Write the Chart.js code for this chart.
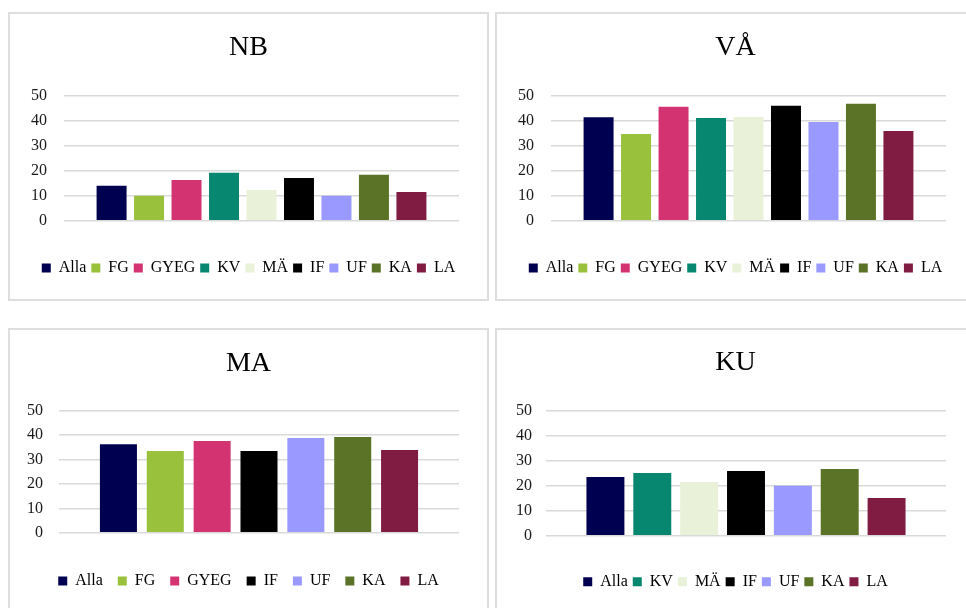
<!DOCTYPE html>
<html>
<head>
<meta charset="utf-8">
<script src="https://cdn.jsdelivr.net/npm/chart.js"></script>
<style>
  html, body { margin:0; padding:0; background:#fff; overflow:hidden; }
  body { width:966px; height:608px; position:relative; }
  .panel { position:absolute; width:481px; height:289px; border:2px solid #dedede; box-sizing:border-box; background:#fff; }
  .panel canvas { position:absolute; left:0; top:0; }
</style>
</head>
<body>
<div class="panel" style="left:8px; top:12px;"><canvas id="chartNB" width="477" height="285"></canvas></div>
<div class="panel" style="left:495px; top:12px;"><canvas id="chartVA" width="477" height="285"></canvas></div>
<div class="panel" style="left:8px; top:328px;"><canvas id="chartMA" width="477" height="285"></canvas></div>
<div class="panel" style="left:495px; top:328px;"><canvas id="chartKU" width="477" height="285"></canvas></div>
<script>
// --- values per subject (percent), one bar per group ---
const nbGroups = ['Alla', 'FG', 'GYEG', 'KV', 'MÄ', 'IF', 'UF', 'KA', 'LA'];
const nbValues = [14, 10, 16.3, 19.2, 12.3, 17.1, 10, 18.4, 11.5];

const vaGroups = ['Alla', 'FG', 'GYEG', 'KV', 'MÄ', 'IF', 'UF', 'KA', 'LA'];
const vaValues = [41.5, 34.8, 45.7, 41.2, 41.6, 46.1, 39.6, 46.9, 36];

const maGroups = ['Alla', 'FG', 'GYEG', 'IF', 'UF', 'KA', 'LA'];
const maValues = [36.3, 33.5, 37.6, 33.5, 38.8, 39.2, 33.9];

const kuGroups = ['Alla', 'KV', 'MÄ', 'IF', 'UF', 'KA', 'LA'];
const kuValues = [23.5, 25.1, 21.5, 25.9, 20, 26.7, 15.1];

const yMin = 0, yMax = 50, yStep = 10;

// fixed colour per group so every panel uses the same one
const groupColors = {
  'Alla': '#000050', 'FG': '#99c13c', 'GYEG': '#d33471', 'KV': '#078670',
  'MÄ': '#e9f2d9', 'IF': '#000000', 'UF': '#9999ff', 'KA': '#5a7326', 'LA': '#801b42'
};

const FONT = "'Liberation Serif', 'Times New Roman', serif";
const W = 477, H = 285;

function makePanel(id, title, groups, values, L) {
  const padBottom = H - L.legendY - 18;
  const legendTop = H - padBottom - (26 + L.legPad);
  return new Chart(document.getElementById(id).getContext('2d'), {
    type: 'bar',
    data: {
      labels: [''],
      datasets: groups.map((g, i) => ({
        label: g, data: [values[i]], backgroundColor: groupColors[g], borderWidth: 0,
        categoryPercentage: L.catPct, barPercentage: L.barPct
      }))
    },
    options: {
      responsive: false, animation: false,
      layout: { padding: { left: 0, right: 0, top: 0, bottom: padBottom } },
      plugins: {
        tooltip: { enabled: false },
        title: {
          display: true, text: title, color: '#000',
          font: { family: FONT, size: 28, weight: 'normal', lineHeight: 1.2 },
          padding: { top: L.titleY - 16.8, bottom: L.plotTop - L.titleY - 16.8 }
        },
        legend: {
          position: 'bottom',
          labels: { boxWidth: 9, boxHeight: 9, padding: L.legPad, color: '#000',
                    font: { family: FONT, size: 16 } }
        }
      },
      scales: {
        x: {
          display: true, grid: { display: false }, border: { display: false },
          ticks: { display: false },
          afterFit: s => { s.height = legendTop - L.plotBottom; }
        },
        y: {
          min: yMin, max: yMax,
          ticks: { stepSize: yStep, padding: L.tickPad, color: '#1a1a1a', font: { family: FONT, size: 16 } },
          grid: { color: '#d9d9d9', lineWidth: 1.5, drawTicks: false },
          border: { display: false },
          afterFit: s => { s.width = L.plotLeft; }
        },
        // empty axis on the right just to keep the gap after the gridlines
        yRight: {
          position: 'right', display: true, min: yMin, max: yMax,
          ticks: { display: false }, grid: { display: false }, border: { display: false },
          afterFit: s => { s.width = W - 449; }
        }
      }
    }
  });
}

makePanel('chartNB', 'NB', nbGroups, nbValues,
  { plotLeft: 54, plotTop: 82, plotBottom: 206.7, titleY: 34, legendY: 254, legPad: 5, tickPad: 17, catPct: 0.854, barPct: 0.8 });
makePanel('chartVA', 'VÅ', vaGroups, vaValues,
  { plotLeft: 54, plotTop: 82, plotBottom: 206.7, titleY: 34, legendY: 254, legPad: 5, tickPad: 17, catPct: 0.854, barPct: 0.8 });
makePanel('chartMA', 'MA', maGroups, maValues,
  { plotLeft: 49, plotTop: 80.7, plotBottom: 202.7, titleY: 33.3, legendY: 251, legPad: 15, tickPad: 16, catPct: 0.82, barPct: 0.79 });
makePanel('chartKU', 'KU', kuGroups, kuValues,
  { plotLeft: 49, plotTop: 80.7, plotBottom: 205.7, titleY: 33, legendY: 251.7, legPad: 5, tickPad: 14, catPct: 0.82, barPct: 0.81 });
</script>
</body>
</html>
